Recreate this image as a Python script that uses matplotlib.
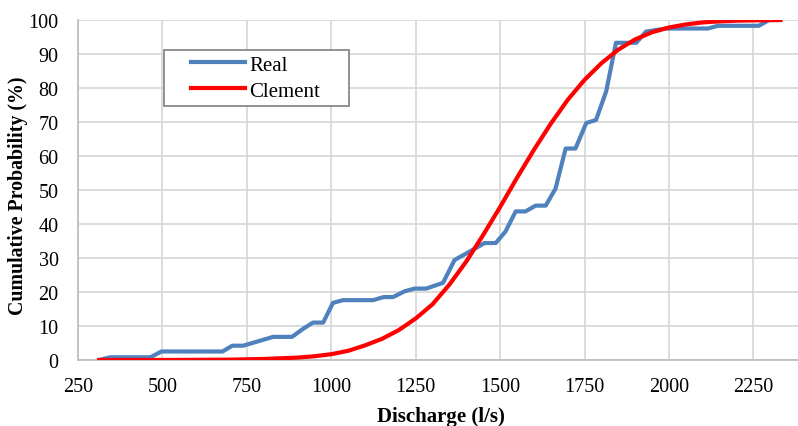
import matplotlib.pyplot as plt
from matplotlib.legend_handler import HandlerLine2D

plt.rcParams['font.family'] = ['Liberation Serif', 'DejaVu Serif']

# observed discharge (l/s) vs cumulative probability (%)
real_q = [313, 345, 465, 497, 678, 707, 739, 828, 884, 917, 946, 976, 1005, 1035,
          1124, 1155, 1183, 1217, 1247, 1281, 1331, 1365, 1410, 1454, 1487, 1516,
          1546, 1575, 1605, 1635, 1664, 1694, 1723, 1755, 1784, 1814, 1843, 1903,
          1932, 1991, 2115, 2145, 2266, 2296, 2327]
real_p = [0.0, 0.8, 0.8, 2.5, 2.5, 4.2, 4.2, 6.8, 6.8, 9.2, 11.0, 11.0, 16.8, 17.6,
          17.6, 18.5, 18.5, 20.2, 21.0, 21.0, 22.7, 29.4, 31.9, 34.4, 34.4, 37.8,
          43.7, 43.7, 45.4, 45.4, 50.4, 62.2, 62.2, 69.7, 70.6, 79.0, 93.3, 93.3,
          96.6, 97.5, 97.5, 98.3, 98.3, 100.0, 100.0]

# Clement curve
clem_q = [313, 400, 500, 600, 700, 800, 900, 950, 1000, 1050, 1100, 1150, 1200,
          1250, 1300, 1350, 1400, 1450, 1500, 1550, 1600, 1650, 1700, 1750, 1800,
          1850, 1900, 1950, 2000, 2050, 2100, 2150, 2200, 2250, 2330]
clem_p = [0.0, 0.0, 0.0, 0.05, 0.1, 0.3, 0.7, 1.1, 1.7, 2.7, 4.3, 6.2, 8.8,
          12.2, 16.4, 22.2, 29.0, 36.8, 45.0, 53.6, 61.8, 69.5, 76.5, 82.4, 87.3,
          91.3, 94.3, 96.4, 97.8, 98.7, 99.3, 99.6, 99.8, 99.9, 100.0]

x_ticks = [250, 500, 750, 1000, 1250, 1500, 1750, 2000, 2250]
y_ticks = [0, 10, 20, 30, 40, 50, 60, 70, 80, 90, 100]

fig = plt.figure(figsize=(7.98, 4.27), dpi=100)
ax = fig.add_axes([0.0977, 0.1546, 0.9023, 0.7962])

ax.plot(real_q, real_p, color='#4f81bd', lw=3, label='Real', zorder=3)
ax.plot(clem_q, clem_p, color='#ff0000', lw=3, label='Clement', zorder=4)

ax.set_xlim(250, 2382)
ax.set_ylim(0, 100)
ax.set_xticks(x_ticks)
ax.set_yticks(y_ticks)
ax.grid(True, color='#d9d9d9', lw=1.3)
ax.set_axisbelow(True)
ax.tick_params(length=0, labelsize=14.5)
ax.tick_params(axis='y', pad=14)
ax.tick_params(axis='x', pad=12)

for s in ['top', 'right']:
    ax.spines[s].set_visible(False)
for s in ['left', 'bottom']:
    ax.spines[s].set_color('#bfbfbf')
    ax.spines[s].set_linewidth(1.3)

ax.set_xlabel('Discharge (l/s)', fontsize=15, fontweight='bold')
ax.xaxis.set_label_coords(0.504, -0.134)
ax.set_ylabel('Cumulative Probability (%)', fontsize=14.3, fontweight='bold', va='center')
ax.yaxis.set_label_coords(-0.083, 0.485)

leg = ax.legend(loc='upper left', bbox_to_anchor=(0.1194, 0.753, 0.257, 0.159),
                mode='expand', borderaxespad=0, fancybox=False, edgecolor='#7f7f7f',
                fontsize=15, handlelength=3.65, handletextpad=0.2, borderpad=0.25,
                labelspacing=0.3, framealpha=1,
                handler_map={plt.Line2D: HandlerLine2D(xpad=1.05)})
leg.get_frame().set_linewidth(1.2)

fig.savefig('out.png', dpi=100)
